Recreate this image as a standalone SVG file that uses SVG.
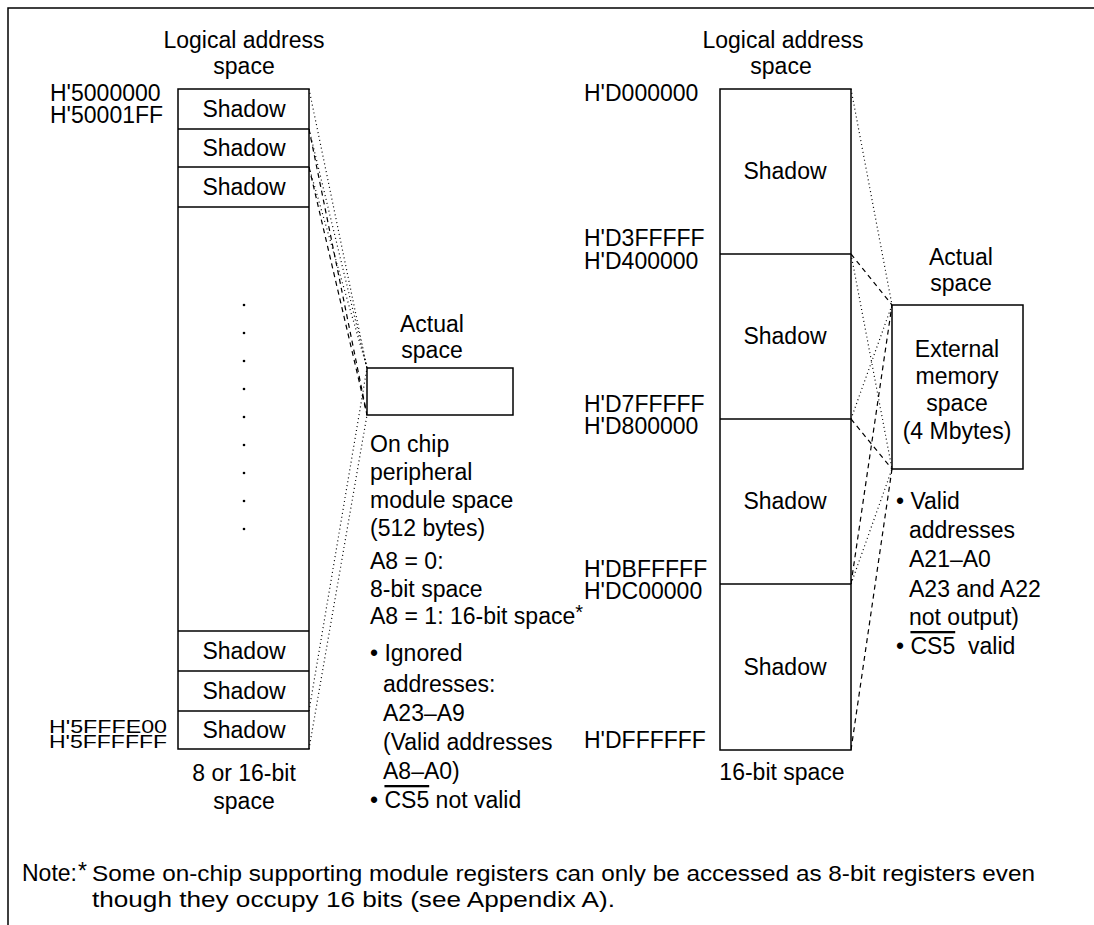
<svg xmlns="http://www.w3.org/2000/svg" width="1094" height="925" viewBox="0 0 1094 925">
<style>
text{font-family:"Liberation Sans",Arial,sans-serif;font-size:23px;fill:#000}
.c{text-anchor:middle}
.box{fill:#fff;stroke:#000;stroke-width:1.5}
.div{stroke:#000;stroke-width:1.5}
.dot{fill:none;stroke:#000;stroke-width:1.2;stroke-dasharray:1 3}
.dash{fill:none;stroke:#000;stroke-width:1.2;stroke-dasharray:5 4}
.note{font-size:22px}
.sm{font-size:17.5px}
.ov{text-decoration:overline}
</style>
<rect width="1094" height="925" fill="#fff"/>
<path d="M8,925 V8 H1094" fill="none" stroke="#000" stroke-width="1.5"/>

<g id="connectors">
<line class="dot" x1="309" y1="89" x2="367" y2="368"/>
<line class="dot" x1="309" y1="129" x2="367" y2="368"/>
<line class="dot" x1="309" y1="167" x2="367" y2="368"/>
<line class="dash" x1="309" y1="129" x2="367" y2="415"/>
<line class="dash" x1="309" y1="167" x2="367" y2="415"/>
<line class="dot" x1="309" y1="711" x2="367" y2="368"/>
<line class="dot" x1="309" y1="749" x2="367" y2="415"/>

<line class="dot" x1="851" y1="89" x2="892" y2="305"/>
<line class="dot" x1="851" y1="254" x2="892" y2="469"/>
<line class="dot" x1="851" y1="419" x2="892" y2="305"/>
<line class="dot" x1="851" y1="584" x2="892" y2="469"/>
<line class="dash" x1="851" y1="254" x2="892" y2="305"/>
<line class="dash" x1="851" y1="419" x2="892" y2="469"/>
<line class="dash" x1="851" y1="584" x2="892" y2="305"/>
<line class="dash" x1="851" y1="750" x2="892" y2="469"/>
</g>

<g id="left-logical">
<text class="c" x="244" y="48">Logical address</text>
<text class="c" x="244" y="74">space</text>
<rect class="box" x="178" y="89" width="131" height="660"/>
<line class="div" x1="178" y1="129" x2="309" y2="129"/>
<line class="div" x1="178" y1="167" x2="309" y2="167"/>
<line class="div" x1="178" y1="207" x2="309" y2="207"/>
<line class="div" x1="178" y1="631" x2="309" y2="631"/>
<line class="div" x1="178" y1="671" x2="309" y2="671"/>
<line class="div" x1="178" y1="711" x2="309" y2="711"/>
<text class="c" x="244" y="117">Shadow</text>
<text class="c" x="244" y="156">Shadow</text>
<text class="c" x="244" y="195">Shadow</text>
<text class="c" x="244" y="659">Shadow</text>
<text class="c" x="244" y="699">Shadow</text>
<text class="c" x="244" y="738">Shadow</text>
<g fill="#000">
<circle cx="244" cy="305" r="1.3"/><circle cx="244" cy="333" r="1.3"/><circle cx="244" cy="361" r="1.3"/>
<circle cx="244" cy="389" r="1.3"/><circle cx="244" cy="417" r="1.3"/><circle cx="244" cy="445" r="1.3"/>
<circle cx="244" cy="473" r="1.3"/><circle cx="244" cy="501" r="1.3"/><circle cx="244" cy="529" r="1.3"/>
</g>
<text x="50" y="101">H'5000000</text>
<text x="50" y="123">H'50001FF</text>
<text class="sm" x="49" y="733" textLength="118" lengthAdjust="spacingAndGlyphs">H'5FFFE00</text>
<text class="sm" x="49" y="748" textLength="118" lengthAdjust="spacingAndGlyphs">H'5FFFFFF</text>
<text class="c" x="244" y="781">8 or 16-bit</text>
<text class="c" x="244" y="809">space</text>
</g>

<g id="left-actual">
<text class="c" x="432" y="332">Actual</text>
<text class="c" x="432" y="358">space</text>
<rect class="box" x="367" y="368" width="146" height="47"/>
<text x="370" y="452">On chip</text>
<text x="370" y="480">peripheral</text>
<text x="370" y="508">module space</text>
<text x="370" y="536">(512 bytes)</text>
<text x="370" y="569">A8 = 0:</text>
<text x="370" y="597">8-bit space</text>
<text x="370" y="624">A8 = 1: 16-bit space<tspan font-size="20" dy="-5">*</tspan></text>
<text x="370" y="661">• Ignored</text>
<text x="383" y="692">addresses:</text>
<text x="383" y="721">A23–A9</text>
<text x="383" y="750">(Valid addresses</text>
<text x="383" y="779">A8–A0)</text>
<text x="370" y="808">• <tspan class="ov">CS5</tspan> not valid</text>
</g>

<g id="right-logical">
<text class="c" x="783" y="48">Logical address</text>
<text class="c" x="781" y="74">space</text>
<rect class="box" x="720" y="89" width="131" height="661"/>
<line class="div" x1="720" y1="254" x2="851" y2="254"/>
<line class="div" x1="720" y1="419" x2="851" y2="419"/>
<line class="div" x1="720" y1="584" x2="851" y2="584"/>
<text class="c" x="785" y="179">Shadow</text>
<text class="c" x="785" y="344">Shadow</text>
<text class="c" x="785" y="509">Shadow</text>
<text class="c" x="785" y="675">Shadow</text>
<text x="584" y="101">H'D000000</text>
<text x="584" y="246">H'D3FFFFF</text>
<text x="584" y="269">H'D400000</text>
<text x="584" y="412">H'D7FFFFF</text>
<text x="584" y="434">H'D800000</text>
<text x="584" y="577">H'DBFFFFF</text>
<text x="584" y="599">H'DC00000</text>
<text x="584" y="748">H'DFFFFFF</text>
<text class="c" x="782" y="780">16-bit space</text>
</g>

<g id="right-actual">
<text class="c" x="961" y="265">Actual</text>
<text class="c" x="961" y="291">space</text>
<rect class="box" x="892" y="305" width="131" height="164"/>
<text class="c" x="957" y="357">External</text>
<text class="c" x="957" y="384">memory</text>
<text class="c" x="957" y="411">space</text>
<text class="c" x="957" y="439">(4 Mbytes)</text>
<text x="896" y="509">• Valid</text>
<text x="909" y="538">addresses</text>
<text x="909" y="567">A21–A0</text>
<text x="909" y="597">A23 and A22</text>
<text x="909" y="625">not output)</text>
<text x="896" y="654">• <tspan class="ov">CS5</tspan>&#160; valid</text>
</g>

<g id="footnote">
<text x="22" y="881" font-size="20">Note:</text>
<text x="78" y="879" font-size="15">*</text>
<text class="note" x="92" y="881" textLength="943" lengthAdjust="spacingAndGlyphs">Some on-chip supporting module registers can only be accessed as 8-bit registers even</text>
<text class="note" x="92" y="907" textLength="523" lengthAdjust="spacingAndGlyphs">though they occupy 16 bits (see Appendix A).</text>
</g>
</svg>
